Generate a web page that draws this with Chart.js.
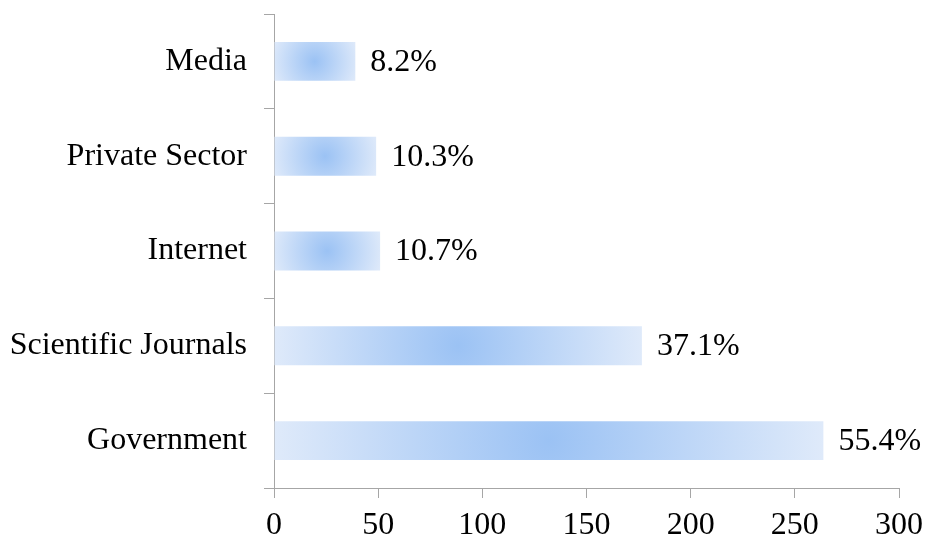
<!DOCTYPE html>
<html>
<head>
<meta charset="utf-8">
<script src="https://cdn.jsdelivr.net/npm/chart.js@4/dist/chart.umd.min.js"></script>
<style>
  html, body { margin: 0; padding: 0; background: #ffffff; }
  #wrap { width: 927px; height: 540px; position: relative; }
</style>
</head>
<body>
<div id="wrap"><canvas id="chart"></canvas></div>
<script>
// Sources of information, listed top to bottom
const categories = ['Media', 'Private Sector', 'Internet', 'Scientific Journals', 'Government'];
// Share of respondents citing each source (%)
const percentages = [8.2, 10.3, 10.7, 37.1, 55.4];
// Number of respondents the shares refer to
const respondents = 476;
// Respondent counts per source, taken from the stated shares
const counts = percentages.map(p => p / 100 * respondents);
// Value axis ticks
const xTicks = [0, 50, 100, 150, 200, 250, 300];

const FONT = { family: '"Liberation Serif", "Times New Roman", serif', size: 32 };
const AXIS_GREY = '#a6a6a6';
const BAR_SHARE = 0.41;

// Radial fill from the bar centre out to its corners
function barFill(ctx) {
  const chart = ctx.chart;
  const xs = chart.scales.x, ys = chart.scales.y;
  if (!xs || !ys || !chart.chartArea || ctx.raw == null) return '#c4d9f7';
  const x0 = xs.getPixelForValue(0);
  const x1 = xs.getPixelForValue(ctx.raw);
  const yc = ys.getPixelForValue(ctx.dataIndex);
  const h = (chart.chartArea.height / categories.length) * BAR_SHARE;
  const cx = (x0 + x1) / 2;
  const r = Math.hypot((x1 - x0) / 2, h / 2);
  const g = chart.ctx.createRadialGradient(cx, yc, 0, cx, yc, r);
  g.addColorStop(0, 'rgb(155,194,244)');
  g.addColorStop(1, 'rgb(223,234,250)');
  return g;
}

// Percent labels to the right of each bar
const valueLabels = {
  id: 'valueLabels',
  afterDatasetsDraw(chart) {
    const c = chart.ctx;
    const meta = chart.getDatasetMeta(0);
    c.save();
    c.font = FONT.size + 'px ' + FONT.family;
    c.fillStyle = '#000000';
    c.textAlign = 'left';
    c.textBaseline = 'middle';
    meta.data.forEach((bar, i) => {
      c.fillText(percentages[i].toFixed(1) + '%', bar.x + 15, bar.y + 1);
    });
    c.restore();
  }
};

new Chart(document.getElementById('chart'), {
  type: 'bar',
  data: {
    labels: categories,
    datasets: [{
      data: counts,
      backgroundColor: barFill,
      borderWidth: 0,
      categoryPercentage: 1,
      barPercentage: BAR_SHARE
    }]
  },
  options: {
    indexAxis: 'y',
    responsive: true,
    maintainAspectRatio: false,
    animation: false,
    layout: { padding: { left: 10, right: 28, top: 14, bottom: 0 } },
    plugins: {
      legend: { display: false },
      tooltip: { enabled: false }
    },
    scales: {
      x: {
        min: 0,
        max: 300,
        afterBuildTicks(scale) { scale.ticks = xTicks.map(v => ({ value: v })); },
        afterFit(scale) {
          scale.height = 52;
          scale.paddingLeft = 0; scale.paddingRight = 0;
        },
        border: { display: true, color: AXIS_GREY, width: 1 },
        grid: { display: true, drawOnChartArea: false, drawTicks: true, tickLength: 10, color: AXIS_GREY },
        ticks: { color: '#000000', font: FONT, padding: 8, maxRotation: 0 }
      },
      y: {
        afterFit(scale) {
          scale.width = 264;
          scale.paddingTop = 0; scale.paddingBottom = 0;
        },
        border: { display: true, color: AXIS_GREY, width: 1 },
        grid: { display: true, offset: true, drawOnChartArea: false, drawTicks: true, tickLength: 10, color: AXIS_GREY },
        ticks: { color: '#000000', font: FONT, padding: 17 }
      }
    }
  },
  plugins: [valueLabels]
});
</script>
</body>
</html>
